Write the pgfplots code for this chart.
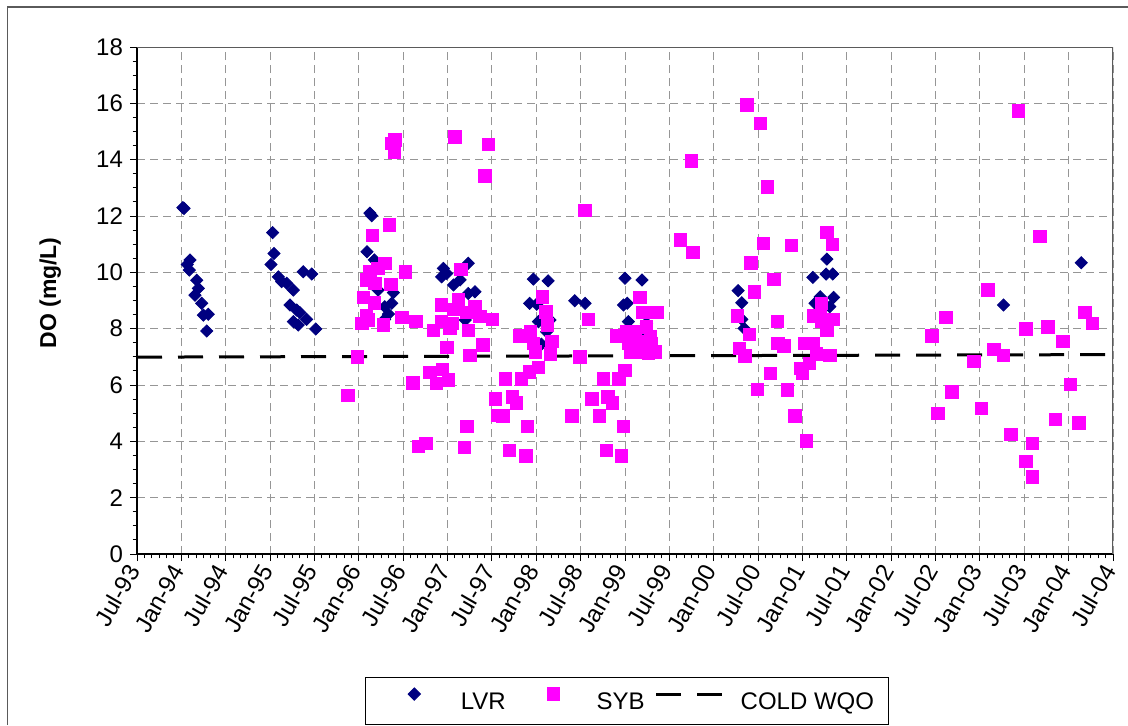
\documentclass[border=0pt]{standalone}
\usepackage{fontspec}
\setmainfont{Liberation Sans}
\usepackage{pgfplots}
\usepackage{pgfplotstable}
\pgfplotsset{compat=1.18}
\definecolor{lvrblue}{RGB}{0,0,128}
\definecolor{sybpink}{RGB}{255,0,255}
\definecolor{gridgray}{RGB}{150,150,150}
\definecolor{boxgray}{RGB}{90,90,90}

\pgfplotsset{
  lvrleg/.style={legend image code/.code={\path (0pt,0pt) (40pt,0pt); \draw[##1] plot coordinates {(17pt,4.3pt)};}},
  sybleg/.style={legend image code/.code={\path (0pt,0pt) (45pt,0pt); \draw[##1] plot coordinates {(23.5pt,4.3pt)};}},
  wqoleg/.style={legend image code/.code={\path (0pt,0pt) (46.5pt,0pt); \draw[##1] (5pt,4.3pt) -- (38pt,4.3pt);}},
}

% x = months after Jul-93, v = DO (mg/L)
\pgfplotstableread{
m v
6.2 12.3
6.36 12.27
7.17 10.44
6.8 10.28
7.07 10.08
8.07 9.72
8.29 9.43
7.84 9.19
8.75 8.9
8.97 8.48
9.64 8.51
9.43 7.92
18.35 11.41
18.53 10.67
18.12 10.28
19.11 9.84
19.57 9.67
20.25 9.61
21.14 9.37
20.69 8.84
21.6 8.66
22.04 8.57
21.14 8.25
21.8 8.13
22.95 8.33
22.49 10.02
23.63 9.94
24.17 7.99
31.5 12.1
31.74 12.01
31.1 10.73
32.1 10.44
32.6 9.37
34.67 9.28
34.45 8.9
33.5 8.78
34.0 8.52
33.5 8.33
41.43 10.14
41.2 9.84
41.9 9.96
44.8 10.32
42.8 9.55
43.7 9.73
44.8 9.25
45.7 9.31
44.4 8.31
53.6 9.76
55.6 9.7
53.1 8.9
54.06 8.87
54.3 8.25
55.86 8.31
55.4 7.89
54.7 7.45
59.2 8.99
60.6 8.9
66.0 9.79
68.3 9.73
65.8 8.84
66.3 8.9
66.45 8.25
68.9 8.19
68.5 7.83
81.3 9.35
81.8 8.92
81.8 8.33
82.1 8.01
93.3 10.47
91.4 9.82
93.2 9.94
94.1 9.94
92.4 9.13
94.2 9.11
91.7 8.9
93.7 8.78
117.2 8.84
127.7 10.34
}\lvrdata

\pgfplotstableread{
m v
28.5 5.64
29.8 7.0
34.9 14.7
34.4 14.58
34.8 14.28
34.1 11.68
31.8 11.32
33.5 10.32
32.6 10.14
31.5 10.02
31.06 9.73
32.2 9.61
36.3 10.02
34.35 9.57
30.6 9.11
32.1 8.92
31.06 8.48
30.4 8.19
31.3 8.31
33.3 8.13
35.8 8.39
37.7 8.26
37.3 6.08
38.05 3.81
39.05 3.93
44.3 3.79
44.6 4.54
43.0 14.81
47.5 14.55
47.07 13.43
43.8 10.1
41.2 8.84
43.45 9.02
42.8 8.69
45.7 8.78
44.6 8.57
46.4 8.43
48.05 8.33
41.2 8.25
42.6 8.19
40.1 7.93
42.3 8.01
44.8 7.93
41.9 7.34
46.8 7.42
45.0 7.06
39.6 6.44
41.3 6.56
40.5 6.06
42.1 6.18
48.5 5.51
48.8 4.93
51.8 7.74
53.2 7.89
54.8 9.13
55.3 8.6
55.5 8.13
53.6 7.48
56.1 7.54
53.9 7.18
55.9 7.1
61.04 8.33
59.9 7.0
54.3 6.63
53.1 6.47
52.0 6.21
49.8 6.21
50.8 5.58
51.35 5.37
49.5 4.91
52.8 4.52
50.4 3.67
52.6 3.48
58.8 4.91
60.6 12.19
68.03 9.11
68.4 8.57
70.3 8.58
64.9 7.74
66.2 7.89
67.4 7.89
68.9 8.07
69.4 7.71
66.45 7.48
67.8 7.54
69.6 7.48
66.7 7.16
68.03 7.15
69.15 7.12
70.06 7.18
66.0 6.51
65.2 6.21
63.07 6.21
61.5 5.5
63.7 5.58
64.3 5.37
62.5 4.91
65.8 4.52
63.5 3.67
65.55 3.48
75.0 13.96
73.5 11.15
75.2 10.7
82.5 15.94
84.3 15.29
85.25 13.04
84.7 11.03
83.0 10.34
86.15 9.76
83.5 9.31
81.2 8.46
82.8 7.8
81.5 7.3
82.2 7.03
85.7 6.41
83.9 5.85
86.6 8.25
86.7 7.48
88.5 10.95
87.5 7.39
88.0 5.82
89.0 4.91
90.5 4.01
93.3 11.41
94.05 11.0
92.6 8.9
91.5 8.45
92.4 8.45
94.2 8.33
92.6 8.25
93.3 7.95
90.3 7.48
91.5 7.48
91.9 7.1
93.7 7.06
90.9 6.77
89.7 6.59
90.0 6.41
119.2 15.73
122.1 11.27
115.1 9.37
109.4 8.39
107.5 7.74
120.2 7.99
123.2 8.07
125.2 7.54
128.2 8.58
129.2 8.19
113.2 6.83
115.9 7.27
117.2 7.06
110.2 5.76
108.3 4.99
114.2 5.17
118.2 4.25
121.1 3.93
120.2 3.28
121.1 2.74
124.2 4.78
126.2 6.02
127.4 4.66
}\sybdata

\begin{document}
\begin{tikzpicture}
\useasboundingbox (0,0) rectangle (564pt,362.5pt);
% chart area frame (left and top edges are inside the picture)
\draw[line width=0.7pt, boxgray] (3.7pt,0) -- (3.7pt,359pt) -- (565pt,359pt);
\begin{axis}[
  at={(68.5pt,85.5pt)}, anchor=south west,
  scale only axis, width=488pt, height=253.5pt,
  xmin=0, xmax=132, ymin=0, ymax=18,
  xtick={0,6,...,132},
  xticklabels={Jul-93,Jan-94,Jul-94,Jan-95,Jul-95,Jan-96,Jul-96,Jan-97,Jul-97,Jan-98,Jul-98,Jan-99,Jul-99,Jan-00,Jul-00,Jan-01,Jul-01,Jan-02,Jul-02,Jan-03,Jul-03,Jan-04,Jul-04},
  minor x tick num=5,
  ytick={0,2,...,18},
  minor y tick num=3,
  axis lines=left, axis line style={-, line width=0.6pt},
  tick align=outside, major tick length=3.5pt, minor tick length=2.2pt,
  tick style={black, line width=0.5pt},
  grid=major,
  major grid style={gridgray, dash pattern=on 4pt off 2.5pt, line width=0.5pt},
  tick label style={font=\fontsize{12}{14}\selectfont},
  xticklabel style={rotate=60, anchor=east},
  ylabel={DO (mg/L)},
  ylabel style={font=\fontsize{11.5}{13}\selectfont\bfseries, at={(axis description cs:-0.089,0.515)}, anchor=center},
  /pgf/number format/assume math mode=true,
  legend columns=3,
  legend style={at={(axis description cs:0.502,-0.29)}, anchor=center,
    draw=black, line width=0.5pt, inner xsep=7pt, inner ysep=5pt,
    font=\fontsize{12}{14}\selectfont,
    nodes={inner sep=0pt, text height=9pt, text depth=2.5pt},
    column sep=0pt},
]
% plot area border on top and right
\draw[boxgray, line width=0.6pt] (rel axis cs:0,1) -- (rel axis cs:1,1) -- (rel axis cs:1,0);
\addplot[black, line width=1.5pt, dash pattern=on 12.5pt off 8pt, forget plot]
  coordinates {(0,6.99) (132,7.08)};
\addplot[only marks, mark=square*, mark size=2.15pt,
  mark options={rotate=45, fill=lvrblue, draw=lvrblue}, lvrleg]
  table[x=m, y=v] {\lvrdata};
\addlegendentry{LVR}
\addplot[only marks, mark=square*, mark size=3.1pt,
  mark options={fill=sybpink, draw=sybpink}, sybleg]
  table[x=m, y=v] {\sybdata};
\addlegendentry{SYB}
\addlegendimage{black, line width=1.5pt, dash pattern=on 12.5pt off 8pt, wqoleg}
\addlegendentry{COLD WQO}
\end{axis}
\end{tikzpicture}
\end{document}
